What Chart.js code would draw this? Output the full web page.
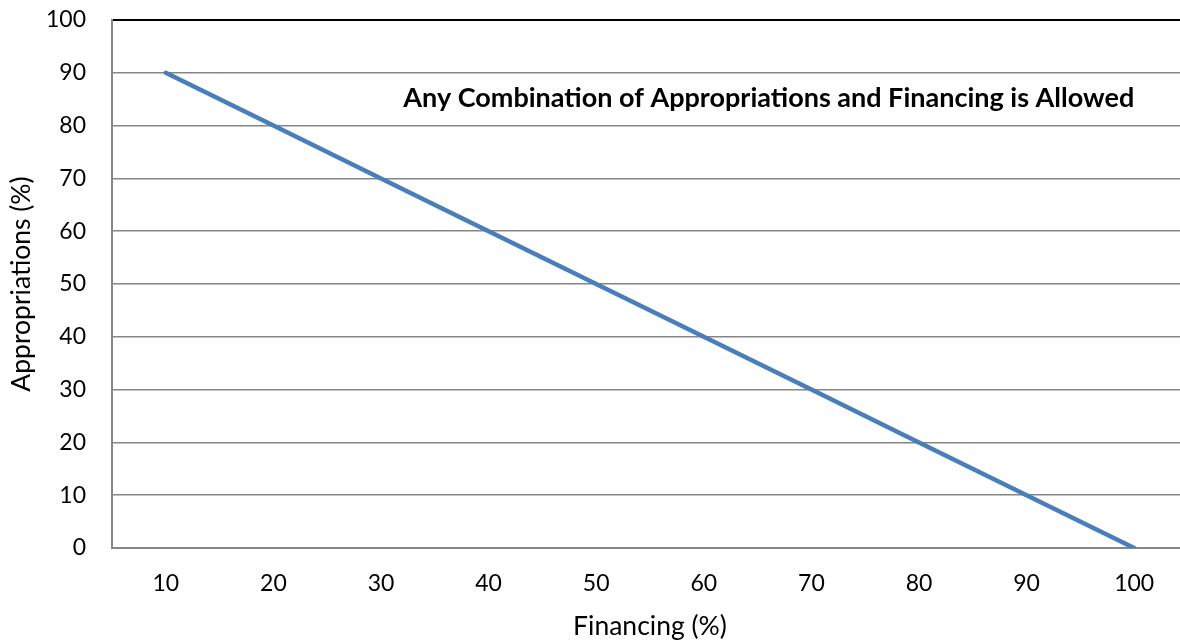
<!DOCTYPE html>
<html>
<head>
<meta charset="utf-8">
<script src="https://cdn.jsdelivr.net/npm/chart.js@4.4.1/dist/chart.umd.min.js"></script>
<style>
  html, body { margin: 0; padding: 0; background: #fff; overflow: hidden; }
  #wrap { width: 1188px; height: 641px; position: relative; }
</style>
</head>
<body>
<div id="wrap"><canvas id="c"></canvas></div>
<script>
const financingLabels = ['10', '20', '30', '40', '50', '60', '70', '80', '90', '100'];
const appropriationsValues = [90, 80, 70, 60, 50, 40, 30, 20, 10, 0];
const yTickMin = 0;
const yTickMax = 100;
const yTickStep = 10;
const annotationText = 'Any Combination of Appropriations and Financing is Allowed';
const xTitleText = 'Financing (%)';
const yTitleText = 'Appropriations (%)';

const FONT = "Lato, 'Open Sans', 'Liberation Sans', sans-serif";
const GRID = '#868686';

const annotationPlugin = {
  id: 'annot',
  afterDatasetsDraw(chart) {
    const ctx = chart.ctx;
    const xs = chart.scales.x, ys = chart.scales.y;
    ctx.save();
    ctx.font = "bold 27px " + FONT;
    ctx.fillStyle = '#000';
    ctx.textAlign = 'right';
    ctx.textBaseline = 'alphabetic';
    ctx.fillText(annotationText, xs.getPixelForValue(financingLabels.length - 1), ys.getPixelForValue(83.6));
    ctx.restore();
  }
};

new Chart(document.getElementById('c'), {
  type: 'line',
  data: {
    labels: financingLabels,
    datasets: [{
      data: appropriationsValues,
      borderColor: '#4A7EBB',
      borderWidth: 4.5,
      borderCapStyle: 'round',
      pointRadius: 0,
      pointHoverRadius: 0,
      tension: 0,
      fill: false
    }]
  },
  options: {
    responsive: true,
    maintainAspectRatio: false,
    animation: false,
    events: [],
    layout: { padding: { top: 0, left: 0, right: 0, bottom: 0 } },
    plugins: { legend: { display: false }, tooltip: { enabled: false }, title: { display: false } },
    scales: {
      x: {
        type: 'category',
        offset: true,
        grid: { display: false, drawTicks: false },
        border: { display: true, color: GRID, width: 2 },
        ticks: { color: '#000', font: { family: FONT, size: 23 }, padding: 22, maxRotation: 0, autoSkip: false },
        title: { display: true, text: xTitleText, color: '#000', font: { family: FONT, size: 26.5, lineHeight: 1.1 }, padding: { top: 0, bottom: 0 } },
        afterFit(scale) { scale.height = 93; }
      },
      y: {
        min: yTickMin,
        max: yTickMax,
        ticks: { stepSize: yTickStep, color: '#000', font: { family: FONT, size: 23 }, padding: 26 },
        grid: {
          drawTicks: false,
          color: (c) => (c.tick && c.tick.value === yTickMax) ? '#000' : GRID,
          lineWidth: (c) => (c.tick && c.tick.value === yTickMax) ? 2 : 1.5
        },
        border: { display: true, color: GRID, width: 2 },
        title: { display: true, text: yTitleText, color: '#000', font: { family: FONT, size: 26.5, lineHeight: 1.1 }, padding: { top: 7, bottom: 0 } },
        afterFit(scale) { scale.width = 112; scale.paddingTop = 20; scale.paddingBottom = 20; }
      }
    }
  },
  plugins: [annotationPlugin]
});
</script>
</body>
</html>
